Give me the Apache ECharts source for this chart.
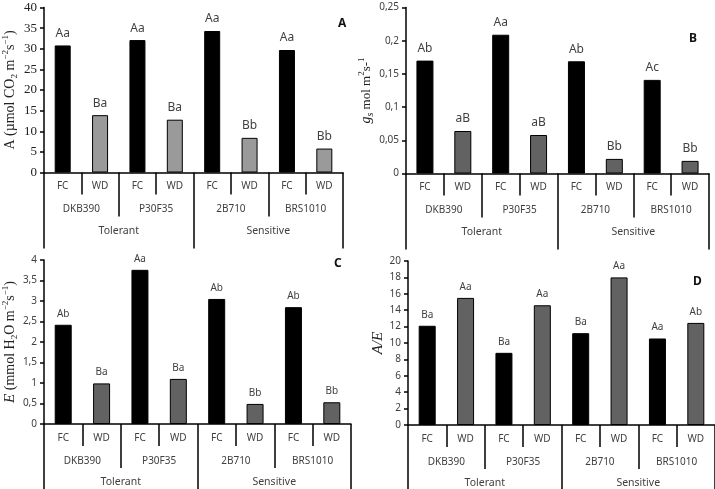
<!DOCTYPE html>
<html>
<head>
<meta charset="utf-8">
<script src="https://cdn.jsdelivr.net/npm/echarts@6/dist/echarts.min.js"></script>
<style>
  html, body { margin: 0; padding: 0; background: #fff; }
  #chart { width: 715px; height: 489px; }
</style>
</head>
<body>
<div id="chart"></div>
<script>
// categorias
var cultivars = ['DKB390', 'P30F35', '2B710', 'BRS1010'];
var treatments = ['FC', 'WD'];
var groups = ['Tolerant', 'Sensitive'];

// A - fotossintese
var aFC = [30.8, 32.1, 34.3, 29.7];
var aWD = [13.9, 12.8, 8.4, 5.8];
var aFCLetters = ['Aa', 'Aa', 'Aa', 'Aa'];
var aWDLetters = ['Ba', 'Ba', 'Bb', 'Bb'];

// B - condutancia estomatica
var gsFC = [0.170, 0.209, 0.169, 0.141];
var gsWD = [0.064, 0.058, 0.022, 0.019];
var gsFCLetters = ['Ab', 'Aa', 'Ab', 'Ac'];
var gsWDLetters = ['aB', 'aB', 'Bb', 'Bb'];

// C - transpiracao
var eFC = [2.42, 3.76, 3.05, 2.85];
var eWD = [0.99, 1.10, 0.49, 0.53];
var eFCLetters = ['Ab', 'Aa', 'Ab', 'Ab'];
var eWDLetters = ['Ba', 'Ba', 'Bb', 'Bb'];

// D - A/E
var aeFC = [12.1, 8.8, 11.2, 10.55];
var aeWD = [15.5, 14.6, 18.0, 12.45];
var aeFCLetters = ['Ba', 'Ba', 'Ba', 'Aa'];
var aeWDLetters = ['Aa', 'Aa', 'Aa', 'Ab'];

// eixos y
var yMax = [40, 0.25, 4, 20];
var yStep = [5, 0.05, 0.5, 2];

var SANS = 'Noto Sans';
var SERIF = 'Liberation Serif';
var TXT = '#404040';

var panels = [
  { letter: 'A', fc: aFC, wd: aWD, fcL: aFCLetters, wdL: aWDLetters, wdColor: '#9a9a9a',
    grid: { left: 33, top: 7.5, width: 310, height: 165 }, title: { left: 333, top: 13 },
    barWidth: 16, labelSize: 12, tickFont: SERIF, tickSize: 13, nameGap: 25, nameSize: 14,
    name: '{t|A (µmol CO}{sub|2}{t| m}{sup|−2}{t|s}{sup|−1}{t|)}' },
  { letter: 'B', fc: gsFC, wd: gsWD, fcL: gsFCLetters, wdL: gsWDLetters, wdColor: '#626262',
    grid: { left: 406, top: 7.5, width: 303, height: 166 }, title: { left: 684, top: 28 },
    barWidth: 17, labelSize: 12, tickFont: SANS, tickSize: 10, nameGap: 25, nameSize: 13,
    name: '{i|g}{isub|s}{t| mol m}{sup|2}{t|s-}{sup|1}' },
  { letter: 'C', fc: eFC, wd: eWD, fcL: eFCLetters, wdL: eWDLetters, wdColor: '#626262',
    grid: { left: 33, top: 260, width: 318, height: 164 }, title: { left: 329, top: 253 },
    barWidth: 17, labelSize: 10, tickFont: SANS, tickSize: 10, nameGap: 23, nameSize: 14,
    name: '{i|E}{t| (mmol H}{sub|2}{t|O m}{sup|−2}{t|s}{sup|−1}{t|)}' },
  { letter: 'D', fc: aeFC, wd: aeWD, fcL: aeFCLetters, wdL: aeWDLetters, wdColor: '#626262',
    grid: { left: 408, top: 261, width: 311, height: 165 }, title: { left: 688, top: 271 },
    barWidth: 17, labelSize: 10, tickFont: SANS, tickSize: 10, nameGap: 21, nameSize: 14,
    name: '{i|A/E}' }
];

var level0 = [];
cultivars.forEach(function (c) {
  treatments.forEach(function (t) { level0.push(c + '|' + t); });
});

var option = { animation: false, grid: [], xAxis: [], yAxis: [], series: [], title: [] };

panels.forEach(function (p, i) {
  option.grid.push(p.grid);
  option.title.push({ text: p.letter, left: p.title.left, top: p.title.top,
    textStyle: { fontFamily: SANS, fontSize: 12, fontWeight: 'bold', color: '#111' } });

  // nivel FC / WD
  option.xAxis.push({
    type: 'category', gridIndex: i, position: 'bottom', data: level0,
    axisLine: { show: true, onZero: false, lineStyle: { color: '#000', width: 1.5 } },
    axisTick: { show: true, interval: 0, length: 22, lineStyle: { color: '#000', width: 1.5 } },
    axisLabel: { interval: 0, margin: 9, fontFamily: SANS, fontSize: 10, color: TXT,
      formatter: function (v) { return v.split('|')[1]; } }
  });
  // nivel cultivar
  option.xAxis.push({
    type: 'category', gridIndex: i, position: 'bottom', offset: 22, data: cultivars,
    axisLine: { show: false, onZero: false },
    axisTick: { show: true, interval: 0, length: 22, lineStyle: { color: '#000', width: 1.5 } },
    axisLabel: { interval: 0, margin: 10, fontFamily: SANS, fontSize: 10, color: TXT }
  });
  // nivel grupo
  option.xAxis.push({
    type: 'category', gridIndex: i, position: 'bottom', offset: 44, data: groups,
    axisLine: { show: false, onZero: false },
    axisTick: { show: true, interval: 0, length: 32, lineStyle: { color: '#000', width: 1.5 } },
    axisLabel: { interval: 0, margin: 9, fontFamily: SANS, fontSize: 10.5, color: TXT }
  });

  var s = p.nameSize;
  option.yAxis.push({
    type: 'value', gridIndex: i, min: 0, max: yMax[i], interval: yStep[i],
    name: p.name, nameLocation: 'middle', nameGap: p.nameGap,
    nameTextStyle: {
      color: '#222',
      rich: {
        t: { fontFamily: SERIF, fontSize: s, lineHeight: 18, color: '#222' },
        i: { fontFamily: SERIF, fontSize: s + 1, fontStyle: 'italic', lineHeight: 18, color: '#222' },
        sub: { fontFamily: SERIF, fontSize: 9, verticalAlign: 'bottom', lineHeight: 9, color: '#222' },
        isub: { fontFamily: SERIF, fontSize: 10, fontStyle: 'italic', verticalAlign: 'bottom', lineHeight: 9, color: '#222' },
        sup: { fontFamily: SERIF, fontSize: 9, verticalAlign: 'top', lineHeight: 9, color: '#222' }
      }
    },
    splitLine: { show: false },
    axisLine: { show: true, lineStyle: { color: '#000', width: 1.5 } },
    axisTick: { show: true, length: 4, lineStyle: { color: '#000', width: 1.5 } },
    axisLabel: { margin: 7, fontFamily: p.tickFont, fontSize: p.tickSize, color: i === 0 ? '#222' : TXT,
      formatter: function (v) { return String(+v.toFixed(2)).replace('.', ','); } }
  });

  var data = [];
  var letters = [];
  p.fc.forEach(function (v, k) {
    data.push({ value: v, itemStyle: { color: '#000' } });
    letters.push(p.fcL[k]);
    data.push({ value: p.wd[k], itemStyle: { color: p.wdColor } });
    letters.push(p.wdL[k]);
  });

  option.series.push({
    type: 'bar', xAxisIndex: i * 3, yAxisIndex: i, barWidth: p.barWidth,
    data: data,
    itemStyle: { borderColor: '#000', borderWidth: 1 },
    label: { show: true, position: 'top', distance: 6, fontFamily: SANS, fontSize: p.labelSize, color: TXT,
      formatter: function (q) { return letters[q.dataIndex]; } }
  });
});

var chart = echarts.init(document.getElementById('chart'));
chart.setOption(option);
</script>
</body>
</html>
